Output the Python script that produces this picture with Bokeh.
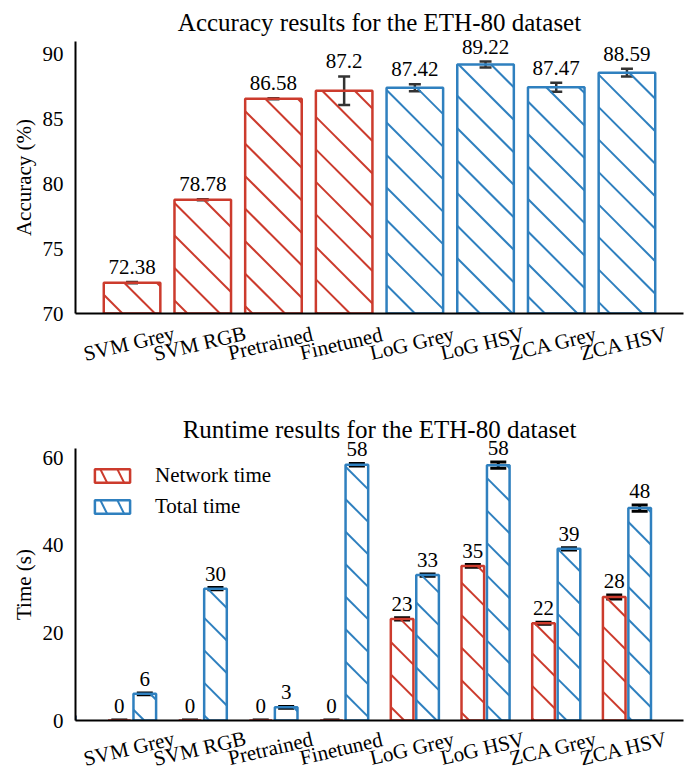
import math
from bokeh.plotting import figure
from bokeh.layouts import column
from bokeh.models import (ColumnDataSource, Whisker, TeeHead, FixedTicker, Legend,
                          LegendItem, Range1d)
from bokeh.core.properties import value
from bokeh.embed import file_html
from bokeh.resources import INLINE

# ---------------- data ----------------
methods = ["SVM Grey", "SVM RGB", "Pretrained", "Finetuned",
           "LoG Grey", "LoG HSV", "ZCA Grey", "ZCA HSV"]
acc_mean = [72.38, 78.78, 86.58, 87.20, 87.42, 89.22, 87.47, 88.59]
acc_err = [0.05, 0.04, 0.03, 1.10, 0.27, 0.23, 0.35, 0.30]
acc_is_ours = [False, False, False, False, True, True, True, True]
net_time = [0.0, 0.0, 0.0, 0.0, 23.2, 35.3, 22.2, 28.2]
net_err = [0.1, 0.1, 0.1, 0.1, 0.25, 0.3, 0.25, 0.45]
total_time = [6.1, 30.1, 3.0, 58.4, 33.2, 58.3, 39.2, 48.5]
total_err = [0.2, 0.25, 0.2, 0.3, 0.25, 0.7, 0.25, 0.7]
acc_ticks = [70, 75, 80, 85, 90]
time_ticks = [0, 20, 40, 60]

# ---------------- style ----------------
RED = "#cc3b2d"
BLUE = "#2f80bf"
FONT = "Liberation Serif"
FW, FH = 608, 272
XR = (-0.8, 7.8)
ACC_YR = (70, 91)
TIME_YR = (0, 62.1)
HATCH_SP = 32.5
LABEL_ANGLE = 0.23


def hatch_segments(x0s, x1s, y0s, y1s, xr, yr, spacing, phase):
    sx = FW / (xr[1] - xr[0])
    sy = FH / (yr[1] - yr[0])
    out = dict(x0=[], y0=[], x1=[], y1=[])
    for a, b, c, d in zip(x0s, x1s, y0s, y1s):
        X0, X1 = (a - xr[0]) * sx, (b - xr[0]) * sx
        Y0, Y1 = (c - yr[0]) * sy, (d - yr[0]) * sy
        if Y1 - Y0 < 1:
            continue
        kmin = math.ceil((X0 + Y0 - phase) / spacing)
        kmax = math.floor((X1 + Y1 - phase) / spacing)
        for k in range(kmin, kmax + 1):
            cc = phase + k * spacing
            xa = max(X0, cc - Y1)
            xb = min(X1, cc - Y0)
            if xb - xa < 0.5:
                continue
            out["x0"].append(xa / sx + xr[0])
            out["y0"].append((cc - xa) / sy + yr[0])
            out["x1"].append(xb / sx + xr[0])
            out["y1"].append((cc - xb) / sy + yr[0])
    return out


def base_fig(title, yr, ticks, ylabel, top_border, bottom_border, label_off):
    p = figure(frame_width=FW, frame_height=FH, x_range=Range1d(*XR), y_range=Range1d(*yr),
               output_backend="svg", toolbar_location=None, title=title,
               min_border_left=75, min_border_right=10,
               min_border_top=top_border, min_border_bottom=bottom_border)
    p.title.text_font = FONT
    p.title.text_font_size = "25px"
    p.title.text_font_style = "normal"
    p.title.align = "center"
    p.title.text_color = "black"
    p.title.standoff = 12
    p.outline_line_color = None
    p.grid.visible = False
    p.xaxis.ticker = FixedTicker(ticks=list(range(len(methods))))
    p.xaxis.major_label_overrides = {i: "" for i in range(len(methods))}
    p.yaxis.ticker = FixedTicker(ticks=ticks)
    p.yaxis.axis_label = ylabel
    for ax in (p.xaxis[0], p.yaxis[0]):
        ax.axis_line_width = 2
        ax.axis_line_color = "black"
        ax.major_tick_line_color = None
        ax.minor_tick_line_color = None
        ax.major_label_text_font = FONT
        ax.major_label_text_font_size = "21px"
        ax.major_label_text_color = "black"
        ax.axis_label_text_font = FONT
        ax.axis_label_text_font_size = "21px"
        ax.axis_label_text_font_style = "normal"
        ax.axis_label_text_color = "black"
    p.yaxis.major_label_standoff = 6
    p.yaxis.axis_label_standoff = 4
    # rotated, centred category labels
    p.text(x=list(range(len(methods))), y=[yr[0]] * len(methods), text=methods,
           angle=LABEL_ANGLE, text_align="center", text_baseline="middle", y_offset=label_off,
           x_offset=-3, text_font=value(FONT), text_font_size="21px", text_color="black",
           level="overlay")
    return p


def value_labels(p, xs, ys, labels, off):
    p.text(x=xs, y=ys, text=labels, text_align="center", text_baseline="middle",
           y_offset=-off, text_font=value(FONT), text_font_size="21px",
           text_color="black", level="overlay")


# ---------------- accuracy chart ----------------
p1 = base_fig("Accuracy results for the ETH-80 dataset", ACC_YR, acc_ticks,
              "Accuracy (%)", 40, 68, 30)
W1 = 0.8
xs = list(range(len(methods)))
cols = [BLUE if o else RED for o in acc_is_ours]
for colr, flag in ((RED, False), (BLUE, True)):
    idx = [i for i in xs if acc_is_ours[i] == flag]
    h = hatch_segments([xs[i] - W1 / 2 for i in idx], [xs[i] + W1 / 2 for i in idx],
                       [ACC_YR[0]] * len(idx), [acc_mean[i] for i in idx],
                       XR, ACC_YR, HATCH_SP, 14.5)
    p1.segment(x0="x0", y0="y0", x1="x1", y1="y1", source=ColumnDataSource(h),
               line_color=colr, line_width=2)
acc_upper = [m + e for m, e in zip(acc_mean, acc_err)]
src1 = ColumnDataSource(dict(x=xs, top=acc_mean, color=cols, upper=acc_upper,
                             lower=[m - e for m, e in zip(acc_mean, acc_err)]))
p1.vbar(x="x", top="top", bottom=ACC_YR[0], width=W1, source=src1, fill_color=None,
        line_color="color", line_width=2.5)
p1.add_layout(Whisker(source=src1, base="x", upper="upper", lower="lower",
                      line_color="#333333", line_width=2.5,
                      upper_head=TeeHead(size=12, line_color="#333333", line_width=2.5),
                      lower_head=TeeHead(size=12, line_color="#333333", line_width=2.5)))
value_labels(p1, xs, acc_upper, [("%.2f" % m).rstrip("0").rstrip(".") for m in acc_mean], 15)

# ---------------- runtime chart ----------------
p2 = base_fig("Runtime results for the ETH-80 dataset", TIME_YR, time_ticks,
              "Time (s)", 67, 52, 28)
W2 = 0.32
OFF = 0.18
legend_items = []
for name, vals, errs, colr, off in (("Network time", net_time, net_err, RED, -OFF),
                                    ("Total time", total_time, total_err, BLUE, OFF)):
    xc = [x + off for x in xs]
    h = hatch_segments([x - W2 / 2 for x in xc], [x + W2 / 2 for x in xc],
                       [0] * len(xc), vals, XR, TIME_YR, HATCH_SP, 3.8)
    p2.segment(x0="x0", y0="y0", x1="x1", y1="y1", source=ColumnDataSource(h),
               line_color=colr, line_width=2)
    upper = [v + e for v, e in zip(vals, errs)]
    src = ColumnDataSource(dict(x=xc, top=vals, upper=upper,
                                lower=[v - e for v, e in zip(vals, errs)]))
    p2.vbar(x="x", top="top", bottom=0, width=W2, source=src, fill_color=None,
            line_color=colr, line_width=2.5)
    p2.add_layout(Whisker(source=src, base="x", upper="upper", lower="lower",
                          line_color="black", line_width=3,
                          upper_head=TeeHead(size=16, line_color="black", line_width=3),
                          lower_head=TeeHead(size=16, line_color="black", line_width=3)))
    value_labels(p2, xc, upper, [str(int(v)) for v in vals], 14)
    # legend swatch renderer (placed outside the visible range)
    dummy = p2.vbar(x=[-100], top=[1], bottom=[0], width=W2, fill_color="white",
                    line_color=colr, line_width=2.5,
                    hatch_pattern="\\", hatch_color=colr, hatch_scale=34, hatch_weight=2)
    legend_items.append(LegendItem(label=name, renderers=[dummy]))

leg = Legend(items=legend_items, location="top_left", glyph_width=44, glyph_height=17,
             label_text_font=FONT, label_text_font_size="21px", label_standoff=21,
             label_text_color="black",
             border_line_color=None, background_fill_alpha=0, margin=15, padding=4,
             spacing=6)
p2.add_layout(leg)

layout = column(p1, p2)
open("out.html", "w").write(file_html(layout, INLINE))
